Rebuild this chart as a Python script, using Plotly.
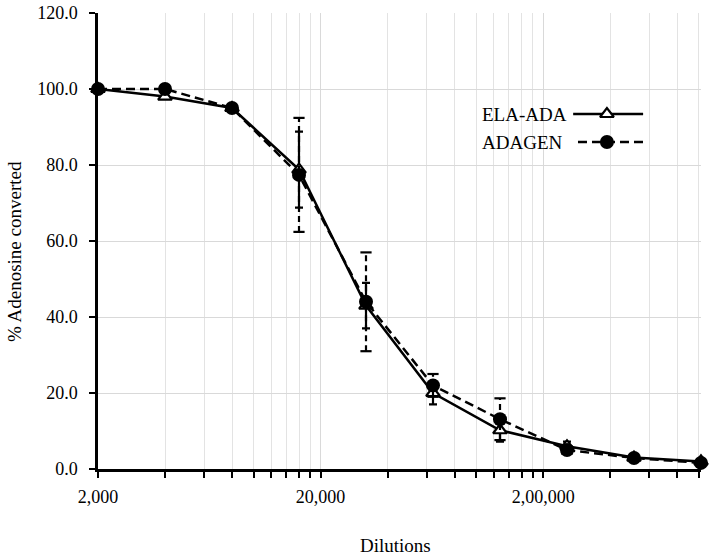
import math
import plotly.graph_objects as go

dilutions = [2000, 4000, 8000, 16000, 32000, 64000, 128000, 256000, 512000, 1024000]
ela_ada = [100.0, 98.0, 95.0, 78.8, 43.0, 20.0, 10.2, 6.0, 3.0, 2.0]
ela_ada_err = [0.3, 0.5, 0.5, 10.0, 6.0, 3.0, 3.0, 1.2, 0.5, 0.5]
adagen = [100.0, 100.0, 95.0, 77.4, 44.0, 22.0, 13.1, 5.0, 2.9, 1.6]
adagen_err = [0.3, 0.5, 0.5, 15.0, 13.0, 3.0, 5.5, 1.0, 0.5, 0.5]

x_tickvals = [2000, 20000, 200000]
x_ticktext = ["2,000", "20,000", "2,00,000"]
x_minor = [4000, 6000, 8000, 10000, 12000, 14000, 16000, 18000,
           40000, 60000, 80000, 100000, 120000, 140000, 160000, 180000,
           400000, 600000, 800000, 1000000]

FONT = "Liberation Serif, Times New Roman, serif"
fig = go.Figure()

# ELA-ADA with solid error bars
fig.add_trace(go.Scatter(
    x=dilutions, y=ela_ada, mode="lines+markers", name="ELA-ADA",
    line=dict(color="black", width=2.5),
    marker=dict(symbol="triangle-up", size=12, color="white",
                line=dict(color="black", width=2.2)),
    error_y=dict(type="data", array=ela_ada_err, color="black",
                 thickness=2.2, width=4),
    cliponaxis=False, showlegend=False))

# ADAGEN dashed error bars (built from data)
ex, ey, cx, cy = [], [], [], []
for xv, yv, ev in zip(dilutions, adagen, adagen_err):
    ex += [xv, xv, None]
    ey += [yv - ev, yv + ev, None]
    cx += [xv, xv]
    cy += [yv - ev, yv + ev]
fig.add_trace(go.Scatter(x=ex, y=ey, mode="lines",
                         line=dict(color="black", width=2.2, dash="6px,4px"),
                         hoverinfo="skip", showlegend=False, cliponaxis=False))
fig.add_trace(go.Scatter(x=cx, y=cy, mode="markers",
                         marker=dict(symbol="line-ew-open", size=8, color="black",
                                     line=dict(color="black", width=2.2)),
                         hoverinfo="skip", showlegend=False, cliponaxis=False))

fig.add_trace(go.Scatter(
    x=dilutions, y=adagen, mode="lines+markers", name="ADAGEN",
    line=dict(color="black", width=2.5, dash="9px,5px"),
    marker=dict(symbol="circle", size=14, color="black"),
    cliponaxis=False, showlegend=False))

# Custom legend (sample to the right of the text)
fig.add_trace(go.Scatter(x=[0.788, 0.904], y=[0.7785, 0.7785], xaxis="x2", yaxis="y2",
                         mode="lines", line=dict(color="black", width=2.5),
                         showlegend=False, hoverinfo="skip"))
fig.add_trace(go.Scatter(x=[0.844], y=[0.7785], xaxis="x2", yaxis="y2",
                         mode="markers",
                         marker=dict(symbol="triangle-up", size=12, color="white",
                                     line=dict(color="black", width=2.2)),
                         showlegend=False, hoverinfo="skip"))
fig.add_trace(go.Scatter(x=[0.796, 0.912], y=[0.717, 0.717], xaxis="x2", yaxis="y2",
                         mode="lines", line=dict(color="black", width=2.5, dash="9px,5px"),
                         showlegend=False, hoverinfo="skip"))
fig.add_trace(go.Scatter(x=[0.844], y=[0.717], xaxis="x2", yaxis="y2",
                         mode="markers", marker=dict(symbol="circle", size=14, color="black"),
                         showlegend=False, hoverinfo="skip"))

annotations = [
    dict(text="ELA-ADA", x=(480 - 98) / 603, y=0.7785, xref="paper", yref="paper",
         xanchor="left", yanchor="middle", showarrow=False, font=dict(size=19)),
    dict(text="ADAGEN", x=(480 - 98) / 603, y=0.717, xref="paper", yref="paper",
         xanchor="left", yanchor="middle", showarrow=False, font=dict(size=19)),
    dict(text="% Adenosine converted", x=(14 - 98) / 603, y=(469 - 252) / 456,
         xref="paper", yref="paper", textangle=-90, xanchor="center", yanchor="middle",
         showarrow=False, font=dict(size=19)),
    dict(text="Dilutions", x=(395 - 98) / 603, y=(469 - 545) / 456,
         xref="paper", yref="paper", xanchor="center", yanchor="middle",
         showarrow=False, font=dict(size=19)),
]

fig.update_layout(
    width=709, height=556,
    margin=dict(l=98, r=8, t=13, b=87, autoexpand=False),
    paper_bgcolor="white", plot_bgcolor="white",
    font=dict(family=FONT, color="black", size=18),
    showlegend=False,
    annotations=annotations,
    xaxis=dict(type="log", range=[math.log10(1999.9), math.log10(1024100)],
               tickmode="array", tickvals=x_tickvals, ticktext=x_ticktext,
               showgrid=True, gridcolor="#d9d9d9", gridwidth=1,
               showline=True, linecolor="black", linewidth=2.5,
               ticks="outside", ticklen=6, tickwidth=2, tickcolor="black",
               ticklabelstandoff=4, automargin=False,
               minor=dict(tickmode="array", tickvals=x_minor, ticks="outside",
                          ticklen=6, tickwidth=2, tickcolor="black",
                          showgrid=True, gridcolor="#e3e3e3", gridwidth=1),
               zeroline=False, tickfont=dict(size=18)),
    yaxis=dict(range=[0, 120], dtick=20, tick0=0, tickformat=".1f",
               showgrid=True, gridcolor="#d9d9d9", gridwidth=1,
               showline=True, linecolor="black", linewidth=2.5,
               ticks="outside", ticklen=6, tickwidth=2, tickcolor="black",
               ticklabelstandoff=8, automargin=False,
               zeroline=False, tickfont=dict(size=18)),
    xaxis2=dict(overlaying="x", range=[0, 1], visible=False),
    yaxis2=dict(overlaying="y", range=[0, 1], visible=False),
)

fig.write_html("out.html",
               config={"displayModeBar": False},
               post_script="document.body.style.margin='0';document.body.style.overflow='hidden';")
